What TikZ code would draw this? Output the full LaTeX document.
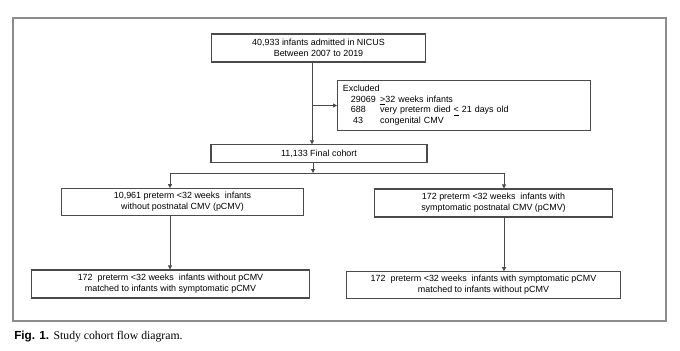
\documentclass[tikz,border=0pt]{standalone}
\usepackage{fontspec}
\setmainfont{Liberation Sans}
\newfontfamily\captionserif{Liberation Serif}
\usepackage{tikz}
\usetikzlibrary{arrows.meta,positioning}
\definecolor{FlowInk}{HTML}{4A4A4A}
\definecolor{FrameGray}{HTML}{8C8C8C}

\begin{document}
\begin{tikzpicture}[x=0.75pt,y=-0.75pt,
  stage/.style={draw=FlowInk, line width=0.8pt, align=center,
                inner sep=1pt, font=\fontsize{6.7}{8}\selectfont},
  link/.style={-{Triangle[length=3pt,width=3pt]}, line width=0.6pt, draw=FlowInk},
  feed/.style={line width=0.6pt, draw=FlowInk}
]
\useasboundingbox (0,0) rectangle (680,350);
\draw[FrameGray, line width=1.4pt] (13,18) rectangle (666,321);

\node[stage, minimum width=161pt, minimum height=21pt] (admitted) at (318.5,48)
  {40,933 infants admitted in NICUS\\Between 2007 to 2019};
\node[stage, text width=182pt, minimum height=37pt, align=left,
      anchor=west, inner xsep=4pt, inner ysep=1.5pt] (excluded) at (337,105.5)
  {\begin{tabular}{@{\hspace{0.9em}}l@{\hspace{0.5em}}l@{}}
   \multicolumn{2}{@{}l}{Excluded}\\
   29069 & \underline{>}32 weeks infants\\
   688 & very preterm died \underline{<} 21 days old\\
   \hspace{0.25em}43 & congenital CMV
   \end{tabular}};
\node[stage, minimum width=162pt, minimum height=13pt] (cohort) at (319,153.5)
  {11,133 Final cohort};
\node[stage, minimum width=181pt, minimum height=20pt] (nopcmv) at (182.5,202)
  {10,961 preterm <32 weeks\ \ infants\\without postnatal CMV (pCMV)};
\node[stage, minimum width=178pt, minimum height=21pt] (pcmv) at (493.5,203)
  {172 preterm <32 weeks\ \ infants with\\symptomatic postnatal CMV (pCMV)};
\node[stage, minimum width=209pt, minimum height=21pt] (ctrlmatch) at (170.5,284)
  {172\ \ preterm <32 weeks\ \ infants without pCMV\\matched to infants with symptomatic pCMV};
\node[stage, minimum width=205pt, minimum height=20pt] (casematch) at (483.5,285)
  {172\ \ preterm <32 weeks\ \ infants with symptomatic pCMV\\matched to infants without pCMV};

\node[anchor=west, inner sep=0pt, font=\fontsize{8.8}{10}\selectfont] (caption) at (14,337)
  {\textbf{Fig. 1.} {\captionserif Study cohort flow diagram.}};

% split points
\coordinate (trunk) at (312,62);
\coordinate (fork) at (313,173);
\coordinate (forkL) at (170,173);
\coordinate (forkR) at (504,173);

\draw[link] (trunk) -- (trunk |- cohort.north);
\draw[link] (trunk |- excluded.west) -- (excluded.west);
\draw[link] (fork |- cohort.south) -- (fork);
\draw[feed] (forkL) -- (forkR);
\draw[link] (forkL) -- (forkL |- nopcmv.north);
\draw[link] (forkR) -- (forkR |- pcmv.north);
\draw[link] (forkL |- nopcmv.south) -- (forkL |- ctrlmatch.north);
\draw[link] (forkR |- pcmv.south) -- (forkR |- casematch.north);
\end{tikzpicture}
\end{document}
